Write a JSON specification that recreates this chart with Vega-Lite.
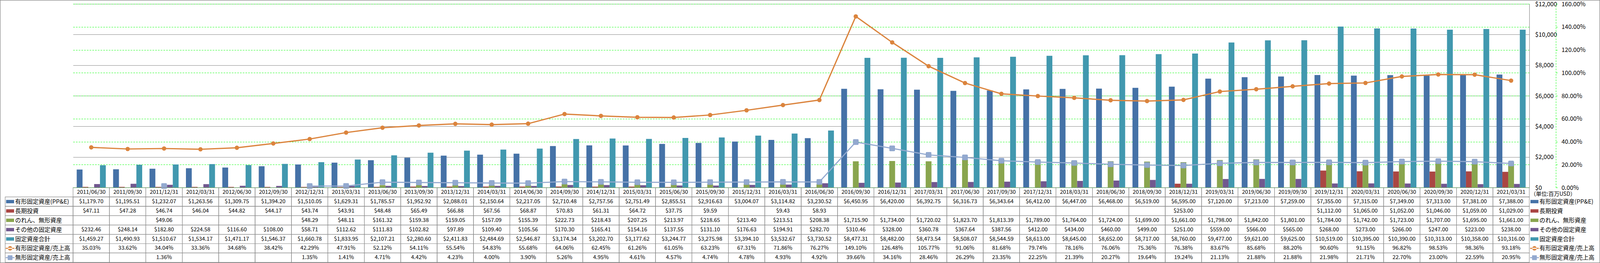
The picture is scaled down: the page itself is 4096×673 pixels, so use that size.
{
"$schema":"https://vega.github.io/schema/vega-lite/v6.json",
"width":3728,"height":662,
"autosize":{"type":"none"},
"padding":{"left":187,"top":10,"right":181,"bottom":1},
"background":"white",
"config":{"font":"Noto Sans CJK JP","view":{"stroke":null},"text":{"font":"Noto Sans CJK JP","color":"#000000"}},
"datasets":{"d":[
{"p":"2011/06/30","s":"有形固定資産(PP&E)","v":1179.70},
{"p":"2011/09/30","s":"有形固定資産(PP&E)","v":1195.51},
{"p":"2011/12/31","s":"有形固定資産(PP&E)","v":1232.07},
{"p":"2012/03/31","s":"有形固定資産(PP&E)","v":1263.56},
{"p":"2012/06/30","s":"有形固定資産(PP&E)","v":1309.75},
{"p":"2012/09/30","s":"有形固定資産(PP&E)","v":1394.20},
{"p":"2012/12/31","s":"有形固定資産(PP&E)","v":1510.05},
{"p":"2013/03/31","s":"有形固定資産(PP&E)","v":1629.31},
{"p":"2013/06/30","s":"有形固定資産(PP&E)","v":1785.57},
{"p":"2013/09/30","s":"有形固定資産(PP&E)","v":1952.92},
{"p":"2013/12/31","s":"有形固定資産(PP&E)","v":2088.01},
{"p":"2014/03/31","s":"有形固定資産(PP&E)","v":2150.64},
{"p":"2014/06/30","s":"有形固定資産(PP&E)","v":2217.05},
{"p":"2014/09/30","s":"有形固定資産(PP&E)","v":2710.48},
{"p":"2014/12/31","s":"有形固定資産(PP&E)","v":2757.56},
{"p":"2015/03/31","s":"有形固定資産(PP&E)","v":2751.49},
{"p":"2015/06/30","s":"有形固定資産(PP&E)","v":2855.51},
{"p":"2015/09/30","s":"有形固定資産(PP&E)","v":2916.63},
{"p":"2015/12/31","s":"有形固定資産(PP&E)","v":3004.07},
{"p":"2016/03/31","s":"有形固定資産(PP&E)","v":3114.82},
{"p":"2016/06/30","s":"有形固定資産(PP&E)","v":3230.52},
{"p":"2016/09/30","s":"有形固定資産(PP&E)","v":6450.95},
{"p":"2016/12/31","s":"有形固定資産(PP&E)","v":6420.00},
{"p":"2017/03/31","s":"有形固定資産(PP&E)","v":6392.75},
{"p":"2017/06/30","s":"有形固定資産(PP&E)","v":6316.73},
{"p":"2017/09/30","s":"有形固定資産(PP&E)","v":6343.64},
{"p":"2017/12/31","s":"有形固定資産(PP&E)","v":6412.00},
{"p":"2018/03/31","s":"有形固定資産(PP&E)","v":6447.00},
{"p":"2018/06/30","s":"有形固定資産(PP&E)","v":6468.00},
{"p":"2018/09/30","s":"有形固定資産(PP&E)","v":6519.00},
{"p":"2018/12/31","s":"有形固定資産(PP&E)","v":6595.00},
{"p":"2019/03/31","s":"有形固定資産(PP&E)","v":7120.00},
{"p":"2019/06/30","s":"有形固定資産(PP&E)","v":7213.00},
{"p":"2019/09/30","s":"有形固定資産(PP&E)","v":7259.00},
{"p":"2019/12/31","s":"有形固定資産(PP&E)","v":7355.00},
{"p":"2020/03/31","s":"有形固定資産(PP&E)","v":7315.00},
{"p":"2020/06/30","s":"有形固定資産(PP&E)","v":7349.00},
{"p":"2020/09/30","s":"有形固定資産(PP&E)","v":7313.00},
{"p":"2020/12/31","s":"有形固定資産(PP&E)","v":7381.00},
{"p":"2021/03/31","s":"有形固定資産(PP&E)","v":7388.00},
{"p":"2011/06/30","s":"長期投資","v":47.11},
{"p":"2011/09/30","s":"長期投資","v":47.28},
{"p":"2011/12/31","s":"長期投資","v":46.74},
{"p":"2012/03/31","s":"長期投資","v":46.04},
{"p":"2012/06/30","s":"長期投資","v":44.82},
{"p":"2012/09/30","s":"長期投資","v":44.17},
{"p":"2012/12/31","s":"長期投資","v":43.74},
{"p":"2013/03/31","s":"長期投資","v":43.91},
{"p":"2013/06/30","s":"長期投資","v":48.48},
{"p":"2013/09/30","s":"長期投資","v":65.49},
{"p":"2013/12/31","s":"長期投資","v":66.88},
{"p":"2014/03/31","s":"長期投資","v":67.56},
{"p":"2014/06/30","s":"長期投資","v":68.87},
{"p":"2014/09/30","s":"長期投資","v":70.83},
{"p":"2014/12/31","s":"長期投資","v":61.31},
{"p":"2015/03/31","s":"長期投資","v":64.72},
{"p":"2015/06/30","s":"長期投資","v":37.75},
{"p":"2015/09/30","s":"長期投資","v":9.59},
{"p":"2015/12/31","s":"長期投資","v":null},
{"p":"2016/03/31","s":"長期投資","v":9.43},
{"p":"2016/06/30","s":"長期投資","v":8.93},
{"p":"2016/09/30","s":"長期投資","v":null},
{"p":"2016/12/31","s":"長期投資","v":null},
{"p":"2017/03/31","s":"長期投資","v":null},
{"p":"2017/06/30","s":"長期投資","v":null},
{"p":"2017/09/30","s":"長期投資","v":null},
{"p":"2017/12/31","s":"長期投資","v":null},
{"p":"2018/03/31","s":"長期投資","v":null},
{"p":"2018/06/30","s":"長期投資","v":null},
{"p":"2018/09/30","s":"長期投資","v":null},
{"p":"2018/12/31","s":"長期投資","v":253.00},
{"p":"2019/03/31","s":"長期投資","v":null},
{"p":"2019/06/30","s":"長期投資","v":null},
{"p":"2019/09/30","s":"長期投資","v":null},
{"p":"2019/12/31","s":"長期投資","v":1112.00},
{"p":"2020/03/31","s":"長期投資","v":1065.00},
{"p":"2020/06/30","s":"長期投資","v":1052.00},
{"p":"2020/09/30","s":"長期投資","v":1046.00},
{"p":"2020/12/31","s":"長期投資","v":1059.00},
{"p":"2021/03/31","s":"長期投資","v":1029.00},
{"p":"2011/06/30","s":"のれん、無形資産","v":null},
{"p":"2011/09/30","s":"のれん、無形資産","v":null},
{"p":"2011/12/31","s":"のれん、無形資産","v":49.06},
{"p":"2012/03/31","s":"のれん、無形資産","v":null},
{"p":"2012/06/30","s":"のれん、無形資産","v":null},
{"p":"2012/09/30","s":"のれん、無形資産","v":null},
{"p":"2012/12/31","s":"のれん、無形資産","v":48.29},
{"p":"2013/03/31","s":"のれん、無形資産","v":48.11},
{"p":"2013/06/30","s":"のれん、無形資産","v":161.32},
{"p":"2013/09/30","s":"のれん、無形資産","v":159.38},
{"p":"2013/12/31","s":"のれん、無形資産","v":159.05},
{"p":"2014/03/31","s":"のれん、無形資産","v":157.09},
{"p":"2014/06/30","s":"のれん、無形資産","v":155.39},
{"p":"2014/09/30","s":"のれん、無形資産","v":222.73},
{"p":"2014/12/31","s":"のれん、無形資産","v":218.43},
{"p":"2015/03/31","s":"のれん、無形資産","v":207.25},
{"p":"2015/06/30","s":"のれん、無形資産","v":213.97},
{"p":"2015/09/30","s":"のれん、無形資産","v":218.65},
{"p":"2015/12/31","s":"のれん、無形資産","v":213.40},
{"p":"2016/03/31","s":"のれん、無形資産","v":213.51},
{"p":"2016/06/30","s":"のれん、無形資産","v":208.38},
{"p":"2016/09/30","s":"のれん、無形資産","v":1715.90},
{"p":"2016/12/31","s":"のれん、無形資産","v":1734.00},
{"p":"2017/03/31","s":"のれん、無形資産","v":1720.02},
{"p":"2017/06/30","s":"のれん、無形資産","v":1823.70},
{"p":"2017/09/30","s":"のれん、無形資産","v":1813.39},
{"p":"2017/12/31","s":"のれん、無形資産","v":1789.00},
{"p":"2018/03/31","s":"のれん、無形資産","v":1764.00},
{"p":"2018/06/30","s":"のれん、無形資産","v":1724.00},
{"p":"2018/09/30","s":"のれん、無形資産","v":1699.00},
{"p":"2018/12/31","s":"のれん、無形資産","v":1661.00},
{"p":"2019/03/31","s":"のれん、無形資産","v":1798.00},
{"p":"2019/06/30","s":"のれん、無形資産","v":1842.00},
{"p":"2019/09/30","s":"のれん、無形資産","v":1801.00},
{"p":"2019/12/31","s":"のれん、無形資産","v":1784.00},
{"p":"2020/03/31","s":"のれん、無形資産","v":1742.00},
{"p":"2020/06/30","s":"のれん、無形資産","v":1723.00},
{"p":"2020/09/30","s":"のれん、無形資産","v":1707.00},
{"p":"2020/12/31","s":"のれん、無形資産","v":1695.00},
{"p":"2021/03/31","s":"のれん、無形資産","v":1661.00},
{"p":"2011/06/30","s":"その他の固定資産","v":232.46},
{"p":"2011/09/30","s":"その他の固定資産","v":248.14},
{"p":"2011/12/31","s":"その他の固定資産","v":182.80},
{"p":"2012/03/31","s":"その他の固定資産","v":224.58},
{"p":"2012/06/30","s":"その他の固定資産","v":116.60},
{"p":"2012/09/30","s":"その他の固定資産","v":108.00},
{"p":"2012/12/31","s":"その他の固定資産","v":58.71},
{"p":"2013/03/31","s":"その他の固定資産","v":112.62},
{"p":"2013/06/30","s":"その他の固定資産","v":111.83},
{"p":"2013/09/30","s":"その他の固定資産","v":102.82},
{"p":"2013/12/31","s":"その他の固定資産","v":97.89},
{"p":"2014/03/31","s":"その他の固定資産","v":109.40},
{"p":"2014/06/30","s":"その他の固定資産","v":105.56},
{"p":"2014/09/30","s":"その他の固定資産","v":170.30},
{"p":"2014/12/31","s":"その他の固定資産","v":165.41},
{"p":"2015/03/31","s":"その他の固定資産","v":154.16},
{"p":"2015/06/30","s":"その他の固定資産","v":137.55},
{"p":"2015/09/30","s":"その他の固定資産","v":131.10},
{"p":"2015/12/31","s":"その他の固定資産","v":176.63},
{"p":"2016/03/31","s":"その他の固定資産","v":194.91},
{"p":"2016/06/30","s":"その他の固定資産","v":282.70},
{"p":"2016/09/30","s":"その他の固定資産","v":310.46},
{"p":"2016/12/31","s":"その他の固定資産","v":328.00},
{"p":"2017/03/31","s":"その他の固定資産","v":360.78},
{"p":"2017/06/30","s":"その他の固定資産","v":367.64},
{"p":"2017/09/30","s":"その他の固定資産","v":387.56},
{"p":"2017/12/31","s":"その他の固定資産","v":412.00},
{"p":"2018/03/31","s":"その他の固定資産","v":434.00},
{"p":"2018/06/30","s":"その他の固定資産","v":460.00},
{"p":"2018/09/30","s":"その他の固定資産","v":499.00},
{"p":"2018/12/31","s":"その他の固定資産","v":251.00},
{"p":"2019/03/31","s":"その他の固定資産","v":559.00},
{"p":"2019/06/30","s":"その他の固定資産","v":566.00},
{"p":"2019/09/30","s":"その他の固定資産","v":565.00},
{"p":"2019/12/31","s":"その他の固定資産","v":268.00},
{"p":"2020/03/31","s":"その他の固定資産","v":273.00},
{"p":"2020/06/30","s":"その他の固定資産","v":266.00},
{"p":"2020/09/30","s":"その他の固定資産","v":247.00},
{"p":"2020/12/31","s":"その他の固定資産","v":223.00},
{"p":"2021/03/31","s":"その他の固定資産","v":238.00},
{"p":"2011/06/30","s":"固定資産合計","v":1459.27},
{"p":"2011/09/30","s":"固定資産合計","v":1490.93},
{"p":"2011/12/31","s":"固定資産合計","v":1510.67},
{"p":"2012/03/31","s":"固定資産合計","v":1534.17},
{"p":"2012/06/30","s":"固定資産合計","v":1471.17},
{"p":"2012/09/30","s":"固定資産合計","v":1546.37},
{"p":"2012/12/31","s":"固定資産合計","v":1660.78},
{"p":"2013/03/31","s":"固定資産合計","v":1833.95},
{"p":"2013/06/30","s":"固定資産合計","v":2107.21},
{"p":"2013/09/30","s":"固定資産合計","v":2280.60},
{"p":"2013/12/31","s":"固定資産合計","v":2411.83},
{"p":"2014/03/31","s":"固定資産合計","v":2484.69},
{"p":"2014/06/30","s":"固定資産合計","v":2546.87},
{"p":"2014/09/30","s":"固定資産合計","v":3174.34},
{"p":"2014/12/31","s":"固定資産合計","v":3202.70},
{"p":"2015/03/31","s":"固定資産合計","v":3177.62},
{"p":"2015/06/30","s":"固定資産合計","v":3244.77},
{"p":"2015/09/30","s":"固定資産合計","v":3275.98},
{"p":"2015/12/31","s":"固定資産合計","v":3394.10},
{"p":"2016/03/31","s":"固定資産合計","v":3532.67},
{"p":"2016/06/30","s":"固定資産合計","v":3730.52},
{"p":"2016/09/30","s":"固定資産合計","v":8477.31},
{"p":"2016/12/31","s":"固定資産合計","v":8482.00},
{"p":"2017/03/31","s":"固定資産合計","v":8473.54},
{"p":"2017/06/30","s":"固定資産合計","v":8508.07},
{"p":"2017/09/30","s":"固定資産合計","v":8544.59},
{"p":"2017/12/31","s":"固定資産合計","v":8613.00},
{"p":"2018/03/31","s":"固定資産合計","v":8645.00},
{"p":"2018/06/30","s":"固定資産合計","v":8652.00},
{"p":"2018/09/30","s":"固定資産合計","v":8717.00},
{"p":"2018/12/31","s":"固定資産合計","v":8760.00},
{"p":"2019/03/31","s":"固定資産合計","v":9477.00},
{"p":"2019/06/30","s":"固定資産合計","v":9621.00},
{"p":"2019/09/30","s":"固定資産合計","v":9625.00},
{"p":"2019/12/31","s":"固定資産合計","v":10519.00},
{"p":"2020/03/31","s":"固定資産合計","v":10395.00},
{"p":"2020/06/30","s":"固定資産合計","v":10390.00},
{"p":"2020/09/30","s":"固定資産合計","v":10313.00},
{"p":"2020/12/31","s":"固定資産合計","v":10358.00},
{"p":"2021/03/31","s":"固定資産合計","v":10316.00},
{"p":"2011/06/30","s":"有形固定資産/売上高","v":0.3503},
{"p":"2011/09/30","s":"有形固定資産/売上高","v":0.3362},
{"p":"2011/12/31","s":"有形固定資産/売上高","v":0.3404},
{"p":"2012/03/31","s":"有形固定資産/売上高","v":0.3336},
{"p":"2012/06/30","s":"有形固定資産/売上高","v":0.3468},
{"p":"2012/09/30","s":"有形固定資産/売上高","v":0.3842},
{"p":"2012/12/31","s":"有形固定資産/売上高","v":0.4229},
{"p":"2013/03/31","s":"有形固定資産/売上高","v":0.4791},
{"p":"2013/06/30","s":"有形固定資産/売上高","v":0.5212},
{"p":"2013/09/30","s":"有形固定資産/売上高","v":0.5411},
{"p":"2013/12/31","s":"有形固定資産/売上高","v":0.5554},
{"p":"2014/03/31","s":"有形固定資産/売上高","v":0.5483},
{"p":"2014/06/30","s":"有形固定資産/売上高","v":0.5568},
{"p":"2014/09/30","s":"有形固定資産/売上高","v":0.6406},
{"p":"2014/12/31","s":"有形固定資産/売上高","v":0.6245},
{"p":"2015/03/31","s":"有形固定資産/売上高","v":0.6126},
{"p":"2015/06/30","s":"有形固定資産/売上高","v":0.6105},
{"p":"2015/09/30","s":"有形固定資産/売上高","v":0.6323},
{"p":"2015/12/31","s":"有形固定資産/売上高","v":0.6731},
{"p":"2016/03/31","s":"有形固定資産/売上高","v":0.7186},
{"p":"2016/06/30","s":"有形固定資産/売上高","v":0.7627},
{"p":"2016/09/30","s":"有形固定資産/売上高","v":1.4910},
{"p":"2016/12/31","s":"有形固定資産/売上高","v":1.2648},
{"p":"2017/03/31","s":"有形固定資産/売上高","v":1.0577},
{"p":"2017/06/30","s":"有形固定資産/売上高","v":0.9106},
{"p":"2017/09/30","s":"有形固定資産/売上高","v":0.8168},
{"p":"2017/12/31","s":"有形固定資産/売上高","v":0.7974},
{"p":"2018/03/31","s":"有形固定資産/売上高","v":0.7816},
{"p":"2018/06/30","s":"有形固定資産/売上高","v":0.7606},
{"p":"2018/09/30","s":"有形固定資産/売上高","v":0.7536},
{"p":"2018/12/31","s":"有形固定資産/売上高","v":0.7638},
{"p":"2019/03/31","s":"有形固定資産/売上高","v":0.8367},
{"p":"2019/06/30","s":"有形固定資産/売上高","v":0.8568},
{"p":"2019/09/30","s":"有形固定資産/売上高","v":0.8820},
{"p":"2019/12/31","s":"有形固定資産/売上高","v":0.9060},
{"p":"2020/03/31","s":"有形固定資産/売上高","v":0.9115},
{"p":"2020/06/30","s":"有形固定資産/売上高","v":0.9682},
{"p":"2020/09/30","s":"有形固定資産/売上高","v":0.9853},
{"p":"2020/12/31","s":"有形固定資産/売上高","v":0.9836},
{"p":"2021/03/31","s":"有形固定資産/売上高","v":0.9318},
{"p":"2011/06/30","s":"無形固定資産/売上高","v":null},
{"p":"2011/09/30","s":"無形固定資産/売上高","v":null},
{"p":"2011/12/31","s":"無形固定資産/売上高","v":0.0136},
{"p":"2012/03/31","s":"無形固定資産/売上高","v":null},
{"p":"2012/06/30","s":"無形固定資産/売上高","v":null},
{"p":"2012/09/30","s":"無形固定資産/売上高","v":null},
{"p":"2012/12/31","s":"無形固定資産/売上高","v":0.0135},
{"p":"2013/03/31","s":"無形固定資産/売上高","v":0.0141},
{"p":"2013/06/30","s":"無形固定資産/売上高","v":0.0471},
{"p":"2013/09/30","s":"無形固定資産/売上高","v":0.0442},
{"p":"2013/12/31","s":"無形固定資産/売上高","v":0.0423},
{"p":"2014/03/31","s":"無形固定資産/売上高","v":0.0400},
{"p":"2014/06/30","s":"無形固定資産/売上高","v":0.0390},
{"p":"2014/09/30","s":"無形固定資産/売上高","v":0.0526},
{"p":"2014/12/31","s":"無形固定資産/売上高","v":0.0495},
{"p":"2015/03/31","s":"無形固定資産/売上高","v":0.0461},
{"p":"2015/06/30","s":"無形固定資産/売上高","v":0.0457},
{"p":"2015/09/30","s":"無形固定資産/売上高","v":0.0474},
{"p":"2015/12/31","s":"無形固定資産/売上高","v":0.0478},
{"p":"2016/03/31","s":"無形固定資産/売上高","v":0.0493},
{"p":"2016/06/30","s":"無形固定資産/売上高","v":0.0492},
{"p":"2016/09/30","s":"無形固定資産/売上高","v":0.3966},
{"p":"2016/12/31","s":"無形固定資産/売上高","v":0.3416},
{"p":"2017/03/31","s":"無形固定資産/売上高","v":0.2846},
{"p":"2017/06/30","s":"無形固定資産/売上高","v":0.2629},
{"p":"2017/09/30","s":"無形固定資産/売上高","v":0.2335},
{"p":"2017/12/31","s":"無形固定資産/売上高","v":0.2225},
{"p":"2018/03/31","s":"無形固定資産/売上高","v":0.2139},
{"p":"2018/06/30","s":"無形固定資産/売上高","v":0.2027},
{"p":"2018/09/30","s":"無形固定資産/売上高","v":0.1964},
{"p":"2018/12/31","s":"無形固定資産/売上高","v":0.1924},
{"p":"2019/03/31","s":"無形固定資産/売上高","v":0.2113},
{"p":"2019/06/30","s":"無形固定資産/売上高","v":0.2188},
{"p":"2019/09/30","s":"無形固定資産/売上高","v":0.2188},
{"p":"2019/12/31","s":"無形固定資産/売上高","v":0.2198},
{"p":"2020/03/31","s":"無形固定資産/売上高","v":0.2171},
{"p":"2020/06/30","s":"無形固定資産/売上高","v":0.2270},
{"p":"2020/09/30","s":"無形固定資産/売上高","v":0.2300},
{"p":"2020/12/31","s":"無形固定資産/売上高","v":0.2259},
{"p":"2021/03/31","s":"無形固定資産/売上高","v":0.2095}
]},
"data":{"name":"d"},
"layer":[
{
"transform":[{"filter":{"field":"s","oneOf":["有形固定資産(PP&E)","長期投資","のれん、無形資産","その他の固定資産","固定資産合計"]}}],
"mark":{"type":"bar"},
"encoding":{
"x":{"field":"p","type":"nominal","scale":{"paddingInner":0,"paddingOuter":0},"axis":null},
"xOffset":{"field":"s","type":"nominal","scale":{"domain":["有形固定資産(PP&E)","長期投資","のれん、無形資産","その他の固定資産","固定資産合計"],"paddingInner":0,"paddingOuter":0.63}},
"y":{"field":"v","type":"quantitative","scale":{"domain":[0,12000],"range":[470,0],"nice":false},
"axis":{"orient":"right","offset":0,"title":null,"values":[0,2000,4000,6000,8000,10000,12000],"format":"$,d","grid":true,"gridColor":"#868686","gridWidth":1,"domain":true,"domainColor":"#868686","domainWidth":1.2,"ticks":false,"tickSize":0,"labelPadding":14.6,"labelFont":"Noto Sans CJK JP","labelFontSize":15.5,"labelColor":"#000000","labelAlign":"left","labelBaseline":"middle"}},
"color":{"field":"s","type":"nominal","scale":{"domain":["有形固定資産(PP&E)","長期投資","のれん、無形資産","その他の固定資産","固定資産合計","有形固定資産/売上高","無形固定資産/売上高"],"range":["#4572A7","#AA4643","#89A54E","#71588F","#4198AF","#DB843D","#93A9CF"]},"legend":null}
}
},
{
"transform":[{"filter":{"field":"s","oneOf":["有形固定資産/売上高","無形固定資産/売上高"]}}],
"encoding":{
"x":{"field":"p","type":"nominal","scale":{"paddingInner":0,"paddingOuter":0},"axis":null},
"y":{"field":"v","type":"quantitative","scale":{"domain":[0,1.6],"range":[470,0],"nice":false},
"axis":{"orient":"right","offset":68,"title":null,"values":[0,0.2,0.4,0.6,0.8,1.0,1.2,1.4,1.6],"format":".2%","grid":true,"gridColor":"#00FF00","gridDash":[4,3],"gridWidth":1,"domain":true,"domainColor":"#00FF00","domainDash":[4,3],"domainWidth":1,"ticks":true,"tickColor":"#00FF00","tickSize":4,"tickWidth":1,"labelPadding":10,"labelFont":"Noto Sans CJK JP","labelFontSize":15.5,"labelColor":"#000000","labelAlign":"left","labelBaseline":"middle"}},
"color":{"field":"s","type":"nominal","scale":{"domain":["有形固定資産(PP&E)","長期投資","のれん、無形資産","その他の固定資産","固定資産合計","有形固定資産/売上高","無形固定資産/売上高"],"range":["#4572A7","#AA4643","#89A54E","#71588F","#4198AF","#DB843D","#93A9CF"]},"legend":null}
},
"layer":[
{"transform":[{"filter":{"field":"s","equal":"有形固定資産/売上高"}}],"mark":{"type":"line","strokeWidth":3.2}},
{"transform":[{"filter":{"field":"s","equal":"有形固定資産/売上高"}}],"mark":{"type":"point","shape":"circle","size":125,"filled":true,"opacity":1}},
{"transform":[{"filter":{"field":"s","equal":"無形固定資産/売上高"}}],"mark":{"type":"line","strokeWidth":2.8}},
{"transform":[{"filter":{"field":"s","equal":"無形固定資産/売上高"}},{"filter":{"field":"v","valid":true}}],"mark":{"type":"point","shape":"M-0.8,-1H0.8Q1,-1 1,-0.8V0.8Q1,1 0.8,1H-0.8Q-1,1 -1,0.8V-0.8Q-1,-1 -0.8,-1Z","size":177,"filled":true,"opacity":1,"stroke":"#86A0CA","strokeWidth":1}}
]
},
{
"layer":[
{
"layer":[
{"mark":{"type":"rect","fill":"transparent","stroke":"#8C8C8C","strokeWidth":1.2},
"encoding":{"x":{"field":"p","type":"nominal","scale":{"paddingInner":0,"paddingOuter":0},"axis":null},
"y":{"field":"s","type":"nominal","scale":{"domain":["日付","有形固定資産(PP&E)","長期投資","のれん、無形資産","その他の固定資産","固定資産合計","有形固定資産/売上高","無形固定資産/売上高"],"range":[470,661.3],"paddingInner":0,"paddingOuter":0},"axis":null}}},
{"transform":[{"filter":{"field":"s","equal":"有形固定資産(PP&E)"}}],
"mark":{"type":"rect","fill":"transparent","stroke":"#8C8C8C","strokeWidth":1.2},
"encoding":{"x":{"field":"p","type":"nominal","scale":{"paddingInner":0,"paddingOuter":0},"axis":null},
"y":{"datum":"日付","type":"nominal","axis":null}}},
{"transform":[{"filter":{"field":"s","oneOf":["有形固定資産(PP&E)","長期投資","のれん、無形資産","その他の固定資産","固定資産合計"]}},{"filter":{"field":"v","valid":true}}],
"mark":{"type":"text","fontSize":14,"align":"center","baseline":"middle"},
"encoding":{"x":{"field":"p","type":"nominal","scale":{"paddingInner":0,"paddingOuter":0},"axis":null},
"y":{"field":"s","type":"nominal","axis":null},
"text":{"field":"v","type":"quantitative","format":"$,.2f"}}},
{"transform":[{"filter":{"field":"s","oneOf":["有形固定資産/売上高","無形固定資産/売上高"]}},{"filter":{"field":"v","valid":true}}],
"mark":{"type":"text","fontSize":14,"align":"center","baseline":"middle"},
"encoding":{"x":{"field":"p","type":"nominal","scale":{"paddingInner":0,"paddingOuter":0},"axis":null},
"y":{"field":"s","type":"nominal","axis":null},
"text":{"field":"v","type":"quantitative","format":".2%"}}},
{"transform":[{"filter":{"field":"s","equal":"有形固定資産(PP&E)"}}],
"mark":{"type":"text","fontSize":14,"align":"center","baseline":"middle"},
"encoding":{"x":{"field":"p","type":"nominal","scale":{"paddingInner":0,"paddingOuter":0},"axis":null},
"y":{"datum":"日付","type":"nominal","axis":null},
"text":{"field":"p","type":"nominal"}}}
]
},
{
"transform":[{"filter":{"field":"p","equal":"2011/06/30"}}],
"layer":[
{"mark":{"type":"rect","fill":"transparent","stroke":"#8C8C8C","strokeWidth":1.2},
"encoding":{"x":{"datum":0,"type":"quantitative","scale":{"domain":[0,1],"range":[-173.7,0],"nice":false,"zero":false},"axis":null},"x2":{"datum":1},
"y":{"field":"s","type":"nominal","axis":null}}},
{"mark":{"type":"point","filled":true,"opacity":1,"size":416},
"encoding":{"x":{"datum":0.072,"type":"quantitative","axis":null},
"y":{"field":"s","type":"nominal","axis":null},
"color":{"field":"s","type":"nominal","scale":{"domain":["有形固定資産(PP&E)","長期投資","のれん、無形資産","その他の固定資産","固定資産合計","有形固定資産/売上高","無形固定資産/売上高"],"range":["#4572A7","#AA4643","#89A54E","#71588F","#4198AF","#DB843D","#93A9CF"]},"legend":null},
"shape":{"field":"s","type":"nominal","scale":{"domain":["有形固定資産(PP&E)","長期投資","のれん、無形資産","その他の固定資産","固定資産合計","有形固定資産/売上高","無形固定資産/売上高"],"range":["M-1,-0.42H1V0.42H-1Z","M-1,-0.42H1V0.42H-1Z","M-1,-0.42H1V0.42H-1Z","M-1,-0.42H1V0.42H-1Z","M-1,-0.42H1V0.42H-1Z","M-1.1,-0.12H1.1V0.12H-1.1Z M-0.55,0A0.55,0.55 0 1,0 0.55,0A0.55,0.55 0 1,0 -0.55,0Z","M-1.1,-0.12H1.1V0.12H-1.1Z M-0.48,-0.6H0.48Q0.6,-0.6 0.6,-0.48V0.48Q0.6,0.6 0.48,0.6H-0.48Q-0.6,0.6 -0.6,0.48V-0.48Q-0.6,-0.6 -0.48,-0.6Z"]},"legend":null}}},
{"mark":{"type":"text","fontSize":15,"align":"left","baseline":"middle"},
"encoding":{"x":{"datum":0.146,"type":"quantitative","axis":null},
"y":{"field":"s","type":"nominal","axis":null},
"text":{"field":"s","type":"nominal"}}}
]
},
{
"transform":[{"filter":{"field":"p","equal":"2011/06/30"}}],
"layer":[
{"mark":{"type":"point","filled":true,"opacity":1,"size":416},
"encoding":{"x":{"datum":0.0586,"type":"quantitative","scale":{"domain":[0,1],"range":[3731,3905],"nice":false,"zero":false},"axis":null},
"y":{"field":"s","type":"nominal","axis":null},
"color":{"field":"s","type":"nominal","scale":{"domain":["有形固定資産(PP&E)","長期投資","のれん、無形資産","その他の固定資産","固定資産合計","有形固定資産/売上高","無形固定資産/売上高"],"range":["#4572A7","#AA4643","#89A54E","#71588F","#4198AF","#DB843D","#93A9CF"]},"legend":null},
"shape":{"field":"s","type":"nominal","scale":{"domain":["有形固定資産(PP&E)","長期投資","のれん、無形資産","その他の固定資産","固定資産合計","有形固定資産/売上高","無形固定資産/売上高"],"range":["M-1,-0.42H1V0.42H-1Z","M-1,-0.42H1V0.42H-1Z","M-1,-0.42H1V0.42H-1Z","M-1,-0.42H1V0.42H-1Z","M-1,-0.42H1V0.42H-1Z","M-1.1,-0.12H1.1V0.12H-1.1Z M-0.55,0A0.55,0.55 0 1,0 0.55,0A0.55,0.55 0 1,0 -0.55,0Z","M-1.1,-0.12H1.1V0.12H-1.1Z M-0.48,-0.6H0.48Q0.6,-0.6 0.6,-0.48V0.48Q0.6,0.6 0.48,0.6H-0.48Q-0.6,0.6 -0.6,0.48V-0.48Q-0.6,-0.6 -0.48,-0.6Z"]},"legend":null}}},
{"mark":{"type":"text","fontSize":15,"align":"left","baseline":"middle"},
"encoding":{"x":{"datum":0.132,"type":"quantitative","axis":null},
"y":{"field":"s","type":"nominal","axis":null},
"text":{"field":"s","type":"nominal"}}},
{"transform":[{"filter":{"field":"s","equal":"有形固定資産(PP&E)"}}],
"mark":{"type":"text","fontSize":14,"align":"left","baseline":"middle","dy":5},
"encoding":{"x":{"datum":0,"type":"quantitative","axis":null},
"y":{"datum":"日付","type":"nominal","axis":null},
"text":{"value":"（単位:百万USD）"}}}
]
}
],
"resolve":{"scale":{"x":"independent"}}
},
{
"transform":[{"filter":{"field":"p","equal":"2011/06/30"}},{"filter":{"field":"s","equal":"有形固定資産(PP&E)"}}],
"mark":{"type":"rect","fill":"transparent","stroke":"#868686","strokeWidth":1.2},
"encoding":{
"x":{"datum":0,"type":"quantitative","scale":{"domain":[0,1],"range":[-186.4,3908.4],"nice":false,"zero":false},"axis":null},"x2":{"datum":1},
"y":{"datum":0,"type":"quantitative","scale":{"domain":[0,1],"range":[-9.4,662.4],"nice":false,"zero":false},"axis":null},"y2":{"datum":1}
}
}
],
"resolve":{"scale":{"x":"independent","y":"independent"}}
}
